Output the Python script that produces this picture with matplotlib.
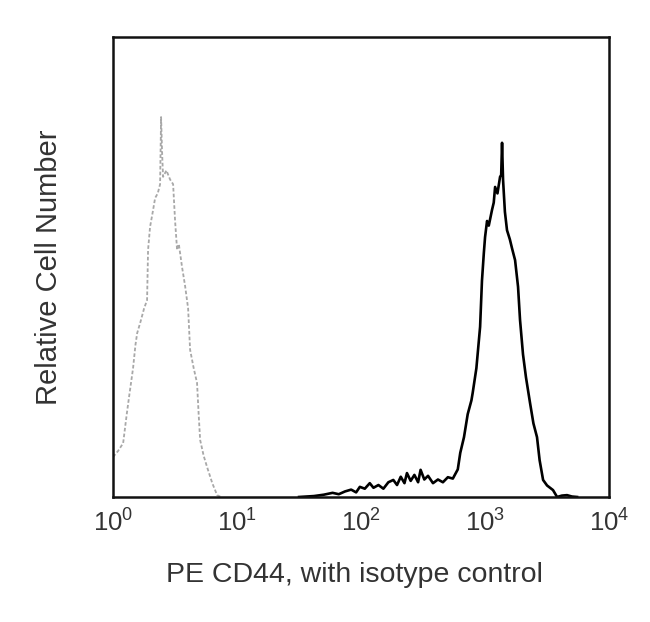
import numpy as np
import matplotlib
matplotlib.use("Agg")
import matplotlib.pyplot as plt

plt.rcParams['font.family'] = ['Liberation Sans', 'DejaVu Sans']
plt.rcParams['mathtext.fontset'] = 'custom'
plt.rcParams['mathtext.rm'] = 'Liberation Sans'
plt.rcParams['mathtext.it'] = 'Liberation Sans'

# Isotype control (gray): log10 intensity, relative height (% of axis)
iso_log = [0.00, 0.04, 0.081, 0.11, 0.13, 0.161, 0.18, 0.194, 0.22, 0.25, 0.274, 0.282,
           0.298, 0.32, 0.339, 0.36, 0.379, 0.387, 0.395, 0.403, 0.43, 0.46, 0.484, 0.50,
           0.516, 0.53, 0.556, 0.58, 0.605, 0.621, 0.65, 0.677, 0.69, 0.702, 0.73, 0.758,
           0.80, 0.839, 0.87]
iso_val = [8.7, 10.0, 11.7, 18.0, 22.0, 28.0, 33.0, 35.6, 38.0, 41.0, 42.8, 53.7,
           58.7, 62.0, 65.0, 66.0, 68.0, 82.6, 75.0, 69.6, 71.0, 69.0, 68.0, 60.0,
           53.7, 55.0, 50.0, 46.0, 41.0, 32.0, 28.0, 24.8, 18.0, 12.4, 9.0, 6.5,
           3.0, 0.4, 0.0]

# PE CD44 (black)
cd_log = [1.50, 1.62, 1.70, 1.77, 1.82, 1.87, 1.92, 1.96, 1.99, 2.03, 2.07, 2.10,
          2.14, 2.18, 2.22, 2.26, 2.29, 2.32, 2.35, 2.37, 2.40, 2.43, 2.46, 2.48,
          2.51, 2.54, 2.58, 2.62, 2.66, 2.70, 2.74, 2.78, 2.80, 2.83, 2.86, 2.89,
          2.90, 2.93, 2.94, 2.96, 2.975, 2.99, 3.00, 3.016, 3.03, 3.056, 3.07, 3.081,
          3.10, 3.121, 3.13, 3.137, 3.145, 3.16, 3.177, 3.20, 3.218, 3.242, 3.266, 3.282,
          3.306, 3.33, 3.363, 3.39, 3.419, 3.44, 3.468, 3.50, 3.548, 3.581, 3.62, 3.661,
          3.70, 3.742]
cd_val = [0.0, 0.2, 0.5, 0.9, 0.6, 1.2, 1.6, 1.0, 2.2, 1.8, 3.0, 2.0,
          2.6, 1.8, 3.2, 3.7, 2.6, 4.4, 3.0, 5.2, 3.5, 4.8, 3.2, 5.9,
          3.8, 4.6, 3.0, 3.8, 3.2, 4.3, 4.0, 6.0, 9.6, 13.0, 18.0, 21.0,
          22.6, 28.0, 31.0, 37.0, 47.0, 53.0, 56.5, 60.0, 59.0, 62.4, 64.0, 67.4,
          66.0, 69.6, 70.0, 77.0, 69.0, 62.0, 58.0, 56.0, 54.0, 51.5, 45.7, 38.5,
          31.0, 26.0, 20.4, 16.0, 13.0, 8.0, 3.7, 2.5, 1.5, 0.0, 0.3, 0.4,
          0.1, 0.0]

x_ticks = [1, 10, 100, 1000, 10000]
x_ticklabels = ['$10^0$', '$10^1$', '$10^2$', '$10^3$', '$10^4$']

fig = plt.figure(figsize=(6.5, 6.22), dpi=100)
ax = fig.add_axes([0.174, 0.201, 0.763, 0.7395])

ax.plot(10 ** np.array(iso_log), iso_val, color='#a8a8a8', lw=1.3,
        linestyle=(0, (2.0, 1.2)))
ax.plot(10 ** np.array(cd_log), cd_val, color='black', lw=1.9)

ax.set_xscale('log')
ax.set_xlim(1, 10000)
ax.set_ylim(0, 100)
ax.set_xticks(x_ticks)
ax.set_xticklabels(x_ticklabels)
ax.minorticks_off()
ax.set_yticks([])
ax.tick_params(axis='x', length=0, pad=9, labelsize=18.5, colors='#333333')
for s in ax.spines.values():
    s.set_linewidth(1.8)
    s.set_color('#111111')

ax.set_xlabel('PE CD44, with isotype control', fontsize=20.5, color='#333333')
ax.xaxis.set_label_coords(0.486, -0.141)
ax.set_ylabel('Relative Cell Number', fontsize=21, labelpad=36, color='#333333')

fig.savefig('out.png', dpi=100)
